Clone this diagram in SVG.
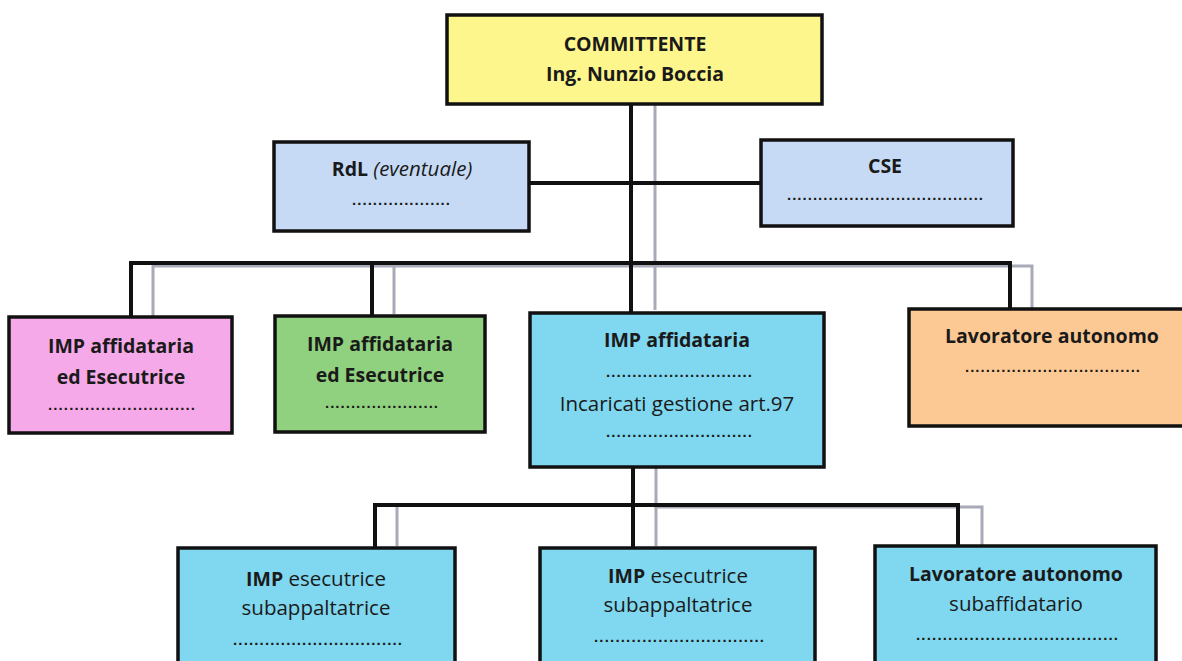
<svg xmlns="http://www.w3.org/2000/svg" width="1182" height="661" viewBox="0 0 1182 661">
<style>
.box{stroke:#111;stroke-width:3.5}
.t{font-family:"Open Sans","Liberation Sans",sans-serif;font-size:20.5px;fill:#1a1a1a;text-anchor:middle}
.b{font-weight:bold;font-size:19.5px}
.d{font-family:"Liberation Sans",sans-serif;font-size:15px;font-weight:bold;fill:#1a1a1a}
.c{fill:none;stroke:#111;stroke-width:4}
.s{fill:none;stroke:#a8aab8;stroke-width:3}
</style>
<rect width="1182" height="661" fill="#fff"/>
<g id="connectors">
<path class="s" d="M655 104V310"/>
<path class="s" d="M760 185H790"/>
<path class="s" d="M153 316V266H1032V308"/>
<path class="s" d="M394 266V314"/>
<path class="s" d="M656 467V507H982V546"/>
<path class="s" d="M397 507V546"/>
<path class="s" d="M656 507V546"/>
<path class="c" d="M631 104V312"/>
<path class="c" d="M529 183H761"/>
<path class="c" d="M131 316V263H1010V308"/>
<path class="c" d="M372 263V315"/>
<path class="c" d="M633 467V547"/>
<path class="c" d="M375 547V505H958V547"/>
</g>
<g id="committente">
<rect class="box" x="447" y="15" width="375" height="89" fill="#fdf68c"/>
<text class="t b" x="635" y="51">COMMITTENTE</text>
<text class="t b" x="635" y="81">Ing. Nunzio Boccia</text>
</g>
<g id="rdl">
<rect class="box" x="274" y="142" width="255" height="89" fill="#c6daf6"/>
<text class="t" x="402" y="176"><tspan class="b">RdL</tspan> <tspan font-style="italic">(eventuale)</tspan></text>
<text class="d" x="352" y="205" textLength="98" lengthAdjust="spacing">...................</text>
</g>
<g id="cse">
<rect class="box" x="761" y="140" width="252" height="86" fill="#c6daf6"/>
<text class="t b" x="885" y="173">CSE</text>
<text class="d" x="787" y="200" textLength="196" lengthAdjust="spacing">......................................</text>
</g>
<g id="imp1">
<rect class="box" x="9" y="317" width="223" height="116" fill="#f6a9e8"/>
<text class="t b" x="121" y="353">IMP affidataria</text>
<text class="t b" x="121" y="384">ed Esecutrice</text>
<text class="d" x="48" y="410" textLength="147" lengthAdjust="spacing">............................</text>
</g>
<g id="imp2">
<rect class="box" x="275" y="316" width="210" height="116" fill="#8fd17f"/>
<text class="t b" x="380" y="351">IMP affidataria</text>
<text class="t b" x="380" y="382">ed Esecutrice</text>
<text class="d" x="325" y="408" textLength="113" lengthAdjust="spacing">......................</text>
</g>
<g id="imp-affidataria">
<rect class="box" x="530" y="313" width="294" height="154" fill="#7fd7f0"/>
<text class="t b" x="677" y="347">IMP affidataria</text>
<text class="d" x="606" y="377" textLength="146" lengthAdjust="spacing">............................</text>
<text class="t" x="677" y="411">Incaricati gestione art.97</text>
<text class="d" x="606" y="437" textLength="146" lengthAdjust="spacing">............................</text>
</g>
<g id="lavoratore">
<rect class="box" x="909" y="309" width="280" height="117" fill="#fcc994"/>
<text class="t b" x="1052" y="343">Lavoratore autonomo</text>
<text class="d" x="965" y="372" textLength="175" lengthAdjust="spacing">..................................</text>
</g>
<g id="sub1">
<rect class="box" x="178" y="548" width="277" height="120" fill="#7fd7f0"/>
<text class="t" x="316" y="586"><tspan class="b">IMP</tspan> esecutrice</text>
<text class="t" x="316" y="615">subappaltatrice</text>
<text class="d" x="233" y="645" textLength="169" lengthAdjust="spacing">................................</text>
</g>
<g id="sub2">
<rect class="box" x="540" y="548" width="275" height="120" fill="#7fd7f0"/>
<text class="t" x="678" y="583"><tspan class="b">IMP</tspan> esecutrice</text>
<text class="t" x="678" y="612">subappaltatrice</text>
<text class="d" x="594" y="642" textLength="170" lengthAdjust="spacing">................................</text>
</g>
<g id="sub3">
<rect class="box" x="875" y="546" width="281" height="122" fill="#7fd7f0"/>
<text class="t b" x="1016" y="581">Lavoratore autonomo</text>
<text class="t" x="1016" y="611">subaffidatario</text>
<text class="d" x="916" y="640" textLength="202" lengthAdjust="spacing">......................................</text>
</g>
</svg>
